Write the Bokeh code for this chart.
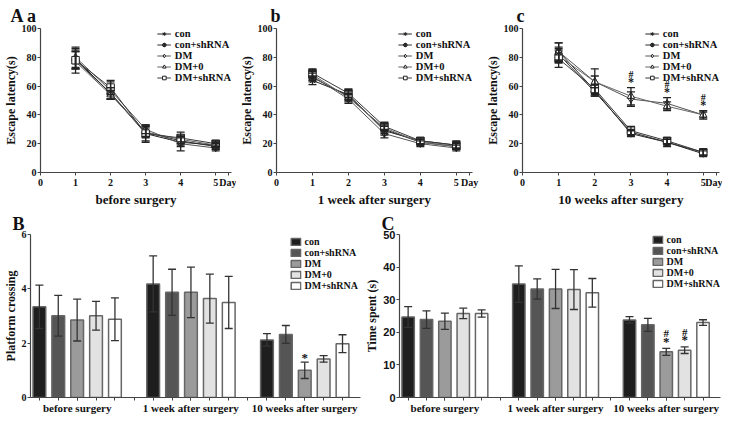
import numpy as np
from bokeh.plotting import figure
from bokeh.models import ColumnDataSource, Whisker, TeeHead, FixedTicker
from bokeh.layouts import column, row
from bokeh.embed import file_html
from bokeh.resources import INLINE
from bokeh.core.properties import value

# ---------------- data ----------------
series_names = ["con", "con+shRNA", "DM", "DM+0", "DM+shRNA"]
days = [1, 2, 3, 4, 5]
day_ticks = [0, 1, 2, 3, 4, 5]
day_unit = "Day"
latency_ticks = [0, 20, 40, 60, 80, 100]

# A a : before surgery (escape latency, mean and error)
a_con = [79, 55, 27, 21, 19]
a_con_sh = [78, 55, 28, 22, 18]
a_dm = [80, 57, 30, 20, 17]
a_dm0 = [77, 54, 28, 23, 19]
a_dm_sh = [78, 59, 27, 24, 20]
a_con_err = [7, 4, 5, 3, 2]
a_con_sh_err = [6, 4, 3, 3, 2]
a_dm_err = [7, 6, 3, 5, 2]
a_dm0_err = [8, 3, 4, 3, 3]
a_dm_sh_err = [6, 5, 6, 4, 2]

# b : 1 week after surgery
b_con = [64, 54, 29, 22, 19]
b_con_sh = [66, 53, 30, 21, 18]
b_dm = [67, 51, 27, 20, 17]
b_dm0 = [68, 52, 31, 21, 18]
b_dm_sh = [69, 55, 32, 22, 19]
b_con_err = [3, 3, 3, 2, 2]
b_con_sh_err = [3, 3, 3, 2, 2]
b_dm_err = [3, 3, 3, 2, 2]
b_dm0_err = [3, 3, 3, 2, 2]
b_dm_sh_err = [3, 3, 3, 2, 3]

# c : 10 weeks after surgery
c_con = [84, 57, 27, 21, 13]
c_con_sh = [82, 56, 28, 21, 14]
c_dm = [84, 63, 51, 48, 40]
c_dm0 = [81, 63, 53, 46, 40]
c_dm_sh = [79, 58, 29, 22, 14]
c_con_err = [6, 4, 2, 3, 2]
c_con_sh_err = [5, 3, 2, 2, 2]
c_dm_err = [6, 9, 5, 4, 3]
c_dm0_err = [5, 4, 6, 3, 2]
c_dm_sh_err = [6, 3, 3, 2, 2]
c_sig_days = [3, 4, 5]

# B : platform crossing
bar_groups = ["before surgery", "1 week after surgery", "10 weeks after surgery"]
B_con = [3.34, 4.18, 2.12]
B_con_sh = [3.01, 3.87, 2.32]
B_dm = [2.85, 3.87, 1.00]
B_dm0 = [3.01, 3.64, 1.42]
B_dm_sh = [2.88, 3.50, 1.98]
B_con_err = [0.80, 1.03, 0.23]
B_con_sh_err = [0.75, 0.85, 0.33]
B_dm_err = [0.77, 0.93, 0.30]
B_dm0_err = [0.53, 0.90, 0.12]
B_dm_sh_err = [0.79, 0.96, 0.33]
B_ticks = [0, 2, 4, 6]
B_star = ["", "", "*"]          # DM only
B_star_series = "DM"

# C : time spent
C_con = [24.7, 34.8, 23.8]
C_con_sh = [23.9, 33.3, 22.3]
C_dm = [23.4, 33.3, 14.0]
C_dm0 = [25.8, 33.1, 14.5]
C_dm_sh = [25.75, 32.1, 23.0]
C_con_err = [3.2, 5.6, 1.0]
C_con_sh_err = [2.7, 3.1, 2.0]
C_dm_err = [2.5, 6.0, 1.05]
C_dm0_err = [1.6, 6.1, 1.0]
C_dm_sh_err = [1.1, 4.4, 0.85]
C_ticks = [0, 10, 20, 30, 40, 50]
C_star = ["", "", "*"]
C_hash = ["", "", "#"]
C_sig_series = ["DM", "DM+0"]

# ---------------- styles ----------------
SERIF = "Liberation Serif"
SANS = "Liberation Sans"
AX = "#444444"
TXT = "#111111"
markers = ["asterisk", "circle_cross", "diamond", "triangle", "square"]
marker_fill = ["#222222", "#555555", "white", "white", "white"]
line_cols = ["#222222", "#2e2e2e", "#555555", "#666666", "#3a3a3a"]
bar_fill = ["#1e1e1e", "#555555", "#9b9b9b", "#e2e2e2", "#ffffff"]


def style(p, tick_font=SERIF, tick_size="10px"):
    p.grid.visible = False
    p.outline_line_color = None
    for ax in p.axis:
        ax.axis_line_color = AX
        ax.axis_line_width = 1.2
        ax.major_tick_line_color = AX
        ax.major_tick_out = 3
        ax.major_tick_in = 0
        ax.minor_tick_line_color = None
        ax.major_label_text_font = tick_font
        ax.major_label_text_font_style = "bold"
        ax.major_label_text_font_size = tick_size
        ax.major_label_text_color = TXT
        ax.major_label_text_line_height = 1.0
        ax.major_label_standoff = 1
        ax.axis_label_text_font = SERIF
        ax.axis_label_text_font_style = "bold"
        ax.axis_label_text_font_size = "12px"
        ax.axis_label_text_color = TXT
        ax.axis_label_text_line_height = 1.0
        ax.axis_label_standoff = 1


def set_title(p, text, offset, standoff):
    p.title.text = text
    p.title.text_font = SERIF
    p.title.text_font_size = "18px"
    p.title.text_font_style = "bold"
    p.title.text_color = TXT
    p.title.align = "left"
    p.title.offset = offset
    p.title.standoff = standoff


def sig_text(p, xs, ys, labels, size, yoff):
    p.text(x=xs, y=ys, text=labels, text_font=value(SERIF), text_font_style="bold",
           text_font_size=size, text_align="center", text_baseline="middle",
           text_color=TXT, y_offset=yoff)


def line_panel(letter, toff, xlabel, means, errs, width, mbr, sig=None):
    p = figure(width=width, height=209, x_range=(0, 5.45), y_range=(0, 100),
               output_backend="svg", toolbar_location=None,
               min_border_top=28, min_border_left=5, min_border_right=mbr,
               min_border_bottom=5)
    set_title(p, letter, toff, 6)
    style(p)
    unit_pos = 5.37
    p.xaxis.ticker = FixedTicker(ticks=day_ticks + [unit_pos])
    p.xaxis.major_label_overrides = {unit_pos: day_unit}
    p.yaxis.ticker = FixedTicker(ticks=latency_ticks)
    p.xaxis.axis_label = xlabel
    p.xaxis.axis_label_text_font_size = "13px"
    p.yaxis.axis_label = "Escape latency(s)"
    for k, (name, m, e) in enumerate(zip(series_names, means, errs)):
        m = np.array(m, float)
        e = np.array(e, float)
        p.line(days, m, line_color=line_cols[k], line_width=1, legend_label=name)
        src = ColumnDataSource(dict(x=days, upper=m + e, lower=m - e))
        w = Whisker(source=src, base="x", upper="upper", lower="lower",
                    line_color="#222222", line_width=1.3, level="glyph",
                    upper_head=TeeHead(size=8, line_color="#222222", line_width=1.3),
                    lower_head=TeeHead(size=8, line_color="#222222", line_width=1.3))
        p.add_layout(w)
        p.scatter(days, m, marker=markers[k], size=7.5, fill_color=marker_fill[k],
                  line_color="#222222", line_width=1, legend_label=name)
    if sig is not None:
        sx, tops = sig
        sig_text(p, sx, tops, ["*"] * len(sx), "12px", -6)
        sig_text(p, sx, tops, ["#"] * len(sx), "10px", -13)
    lg = p.legend[0]
    lg.location = "top_right"
    lg.margin = 0
    lg.padding = 0
    lg.spacing = 0
    lg.border_line_color = None
    lg.background_fill_alpha = 0
    lg.glyph_width = 14
    lg.glyph_height = 9
    lg.label_height = 9
    lg.label_standoff = 4
    lg.label_text_font = SERIF
    lg.label_text_font_style = "bold"
    lg.label_text_font_size = "10.5px"
    lg.label_text_line_height = 0.85
    lg.label_text_color = TXT
    return p


pa = line_panel("A a", -30, "before surgery",
                [a_con, a_con_sh, a_dm, a_dm0, a_dm_sh],
                [a_con_err, a_con_sh_err, a_dm_err, a_dm0_err, a_dm_sh_err], 236, 5)
pb = line_panel("b", -6, "1 week after surgery",
                [b_con, b_con_sh, b_dm, b_dm0, b_dm_sh],
                [b_con_err, b_con_sh_err, b_dm_err, b_dm0_err, b_dm_sh_err], 246, 10)
c_idx = [days.index(d) for d in c_sig_days]
c_tops = [max(c_dm[i] + c_dm_err[i], c_dm0[i] + c_dm0_err[i]) for i in c_idx]
pc = line_panel("c", -6, "10 weeks after surgery",
                [c_con, c_con_sh, c_dm, c_dm0, c_dm_sh],
                [c_con_err, c_con_sh_err, c_dm_err, c_dm0_err, c_dm_sh_err], 240, 3,
                sig=(c_sig_days, c_tops))


def bar_panel(letter, ylabel, ymax, yticks, vals, errs, width, tick_font, tick_size,
              sig_list, legend_margin):
    p = figure(width=width, height=207, x_range=(-0.41, 2.49), y_range=(0, ymax),
               output_backend="svg", toolbar_location=None,
               min_border_top=25, min_border_left=5, min_border_right=2,
               min_border_bottom=5)
    set_title(p, letter, -18, 2)
    style(p, tick_font, tick_size)
    offsets = (np.arange(5) - 2) * 0.166
    gx = np.arange(len(bar_groups), dtype=float)
    all_x = []
    tops_by_name = {}
    for k, (name, v, e) in enumerate(zip(series_names, vals, errs)):
        v = np.array(v, float)
        e = np.array(e, float)
        xs = gx + offsets[k]
        all_x += list(xs)
        p.vbar(x=xs, top=v, width=0.112, fill_color=bar_fill[k], line_color="#666666",
               line_width=1.5, legend_label=name)
        src = ColumnDataSource(dict(x=xs, upper=v + e, lower=v - e))
        w = Whisker(source=src, base="x", upper="upper", lower="lower",
                    line_color="#333333", line_width=1.3, level="overlay",
                    upper_head=TeeHead(size=8, line_color="#333333", line_width=1.3),
                    lower_head=TeeHead(size=8, line_color="#333333", line_width=1.3))
        p.add_layout(w)
        tops_by_name[name] = (xs, v + e)
    for (sname, labels, yoff, fsize) in sig_list:
        xs, tops = tops_by_name[sname]
        sig_text(p, xs, tops, labels, fsize, yoff)
    bounds = list((gx[:-1] + gx[1:]) / 2)
    p.xaxis.ticker = FixedTicker(ticks=list(gx), minor_ticks=sorted(all_x + bounds))
    p.xaxis.minor_tick_line_color = AX
    p.xaxis.minor_tick_out = 3
    p.xaxis.minor_tick_in = 0
    p.xaxis.major_label_overrides = {float(i): g for i, g in enumerate(bar_groups)}
    p.xaxis.major_label_text_font = SERIF
    p.xaxis.major_label_text_font_size = "11px"
    p.xaxis.major_label_standoff = 1
    p.xaxis.axis_label = None
    p.yaxis.ticker = FixedTicker(ticks=yticks)
    p.yaxis.axis_label = ylabel
    lg = p.legend[0]
    lg.location = "top_right"
    lg.margin = legend_margin
    lg.padding = 0
    lg.spacing = 0
    lg.border_line_color = None
    lg.background_fill_alpha = 0
    lg.glyph_width = 12
    lg.glyph_height = 9
    lg.label_height = 9
    lg.label_standoff = 3
    lg.label_text_font = SERIF
    lg.label_text_font_style = "bold"
    lg.label_text_font_size = "10px"
    lg.label_text_line_height = 0.85
    lg.label_text_color = TXT
    return p


pB = bar_panel("B", "Platform crossing", 6, B_ticks,
               [B_con, B_con_sh, B_dm, B_dm0, B_dm_sh],
               [B_con_err, B_con_sh_err, B_dm_err, B_dm0_err, B_dm_sh_err],
               362, SERIF, "10px", [(B_star_series, B_star, -5, "13px")], 2)
pC = bar_panel("C", "Time spent (s)", 50, C_ticks,
               [C_con, C_con_sh, C_dm, C_dm0, C_dm_sh],
               [C_con_err, C_con_sh_err, C_dm_err, C_dm0_err, C_dm_sh_err],
               360, SANS, "11px",
               [(s, C_star, -7, "13px") for s in C_sig_series] +
               [(s, C_hash, -15, "11px") for s in C_sig_series], 0)

layout = column(row(pa, pb, pc), row(pB, pC))
open("out.html", "w").write(file_html(layout, INLINE))
